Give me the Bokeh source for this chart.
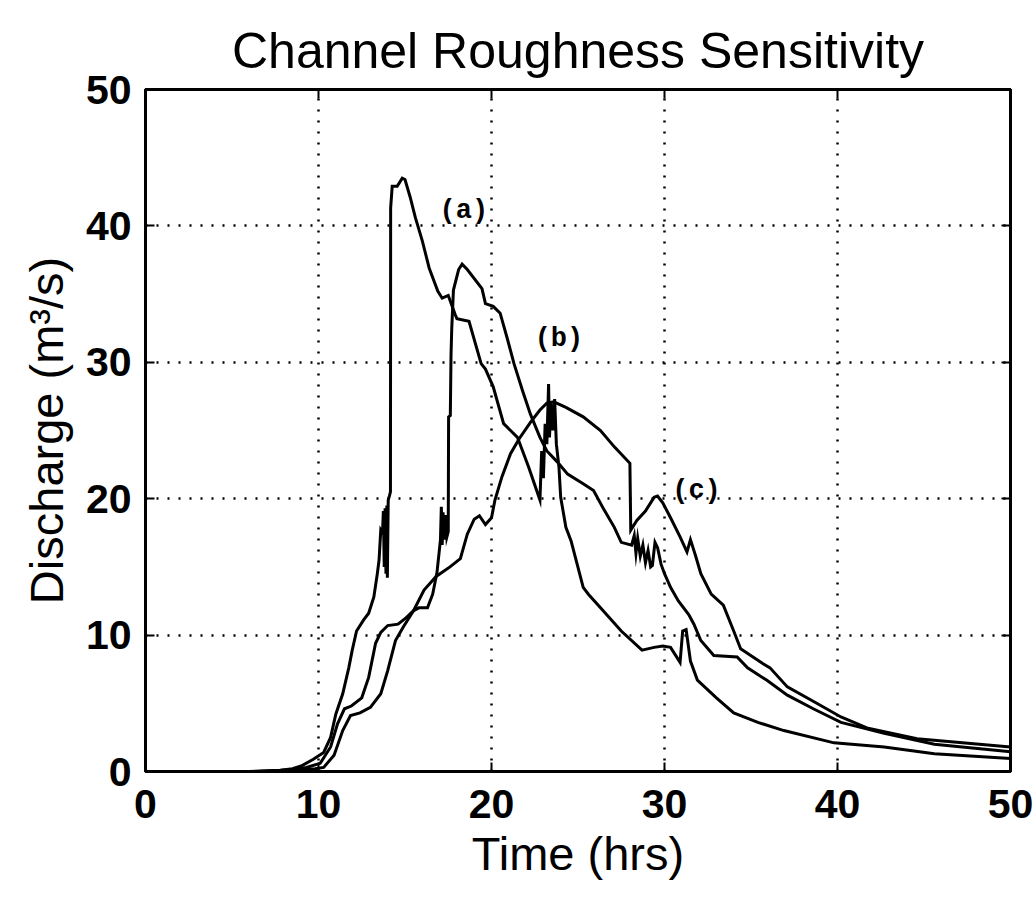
from bokeh.plotting import figure
from bokeh.models import Range1d, FixedTicker, LinearAxis, CustomJSTickFormatter, ColumnDataSource
from bokeh.core.properties import value
from bokeh.embed import file_html
from bokeh.resources import INLINE

# ---- data ----
time_a = [0, 6, 7, 7.8, 8.5, 9.0, 9.7, 10.3, 10.7, 11.0, 11.4, 11.75, 11.95, 12.2, 12.6, 12.9, 13.2, 13.4,
          13.5, 13.6, 13.7, 13.75, 13.8, 13.85, 13.9, 13.95, 13.98, 14.03, 14.1, 14.16, 14.17, 14.26, 14.55,
          14.84, 15.0, 15.3, 15.6, 16.0, 16.4, 16.9, 17.15, 17.5, 17.9, 18.0, 18.7, 19.4, 19.65, 20.1, 20.7,
          21.5, 22.15, 22.8, 22.9, 23.0, 23.1, 23.2, 23.3, 23.35, 23.45, 23.55, 23.65, 23.75, 23.9, 24.0,
          24.3, 24.6, 24.95, 25.3, 25.6, 26.3, 27.5, 28.7, 29.4, 29.9, 30.35, 30.9, 31.05, 31.25, 31.5, 31.9,
          33.0, 34.0, 35.4, 36.9, 39.8, 42.7, 45.6, 50]
flow_a = [0, 0, 0.05, 0.1, 0.2, 0.4, 0.9, 1.4, 2.5, 4.2, 5.7, 7.6, 8.9, 10.3, 11.1, 11.6, 12.8, 14.5,
          15.5, 17.7, 17.5, 19.1, 15.0, 19.3, 14.5, 19.5, 14.2, 19.9, 20.2, 20.5, 41.3, 42.9, 42.9,
          43.5, 43.4, 42.1, 40.6, 38.9, 36.9, 35.2, 34.7, 34.9, 33.5, 33.2, 33.0, 29.9, 29.5, 28.2, 25.5,
          24.5, 22.3, 19.9, 23.5, 21.5, 25.5, 24.0, 28.4, 24.5, 27.0, 25.0, 27.3, 24.0, 22.3, 20.1,
          17.9, 16.9, 15.2, 13.5, 13.0, 12.0, 10.3, 8.9, 9.1, 9.2, 9.1, 8.0, 10.3, 10.4, 8.1, 6.7,
          5.4, 4.3, 3.6, 3.0, 2.1, 1.8, 1.3, 0.95]

time_b = [0, 6.5, 7.5, 8.5, 9.3, 10.1, 10.7, 11.1, 11.5, 11.9, 12.5, 12.9, 13.3, 13.6, 14.0, 14.6, 15.0,
          15.5, 15.8, 16.3, 16.6, 16.85, 17.05, 17.1, 17.15, 17.2, 17.27, 17.35, 17.42, 17.5, 17.52, 17.62,
          17.66, 17.7, 17.8, 18.1, 18.3, 18.6, 19.45, 19.65, 20.1, 20.5, 20.9, 21.3, 21.8, 22.25, 22.8,
          23.2, 23.8, 24.4, 25.3, 25.9, 26.5, 27.1, 27.5, 28.1, 28.25, 28.35, 28.45, 28.6, 28.75, 28.9,
          29.05, 29.2, 29.3, 29.45, 29.6, 29.8, 30.0, 30.35, 30.8, 31.4, 31.7, 32.1, 32.85, 34.2, 34.8,
          35.9, 37.1, 38.6, 40.2, 42.7, 45.6, 50]
flow_b = [0, 0, 0.05, 0.15, 0.3, 0.6, 1.8, 3.5, 4.6, 4.8, 5.4, 6.9, 9.4, 10.2, 10.7, 10.8, 11.2,
          11.8, 12.0, 12.0, 13.0, 14.6, 17.0, 19.4, 16.6, 19.0, 17.0, 18.8, 17.2, 17.6, 26.0, 26.1,
          30.5, 32.4, 35.3, 36.8, 37.2, 36.8, 35.4, 34.3, 34.1, 33.6, 31.8, 29.9, 27.9, 26.2, 24.5,
          23.5, 22.7, 21.8, 21.1, 20.6, 19.2, 17.9, 16.8, 16.6, 17.3, 16.0, 17.1, 15.8, 16.6, 15.3,
          16.2, 15.0, 15.1, 16.8, 16.4, 15.2, 14.5, 13.5, 12.5, 11.5, 10.8, 9.6, 8.5, 8.4, 7.6,
          6.7, 5.6, 4.6, 3.6, 2.8, 2.0, 1.45]

time_c = [0, 7, 8, 9, 9.8, 10.3, 10.9, 11.4, 11.85, 12.4, 13.0, 13.6, 14.0, 14.45, 14.9, 15.5, 16.1,
          16.8, 17.6, 18.2, 18.6, 19.0, 19.3, 19.65, 20.0, 20.2, 20.6, 21.1, 21.6, 22.25, 22.8, 23.2,
          23.6, 24.3, 25.3, 26.3, 27.1, 28.0, 28.05, 28.4, 28.9, 29.4, 29.6, 29.9, 30.35, 30.9, 31.3,
          31.5, 31.8, 32.1, 32.7, 33.4, 34.0, 34.4, 35.7, 36.1, 37.1, 38.8, 40.2, 41.7, 44.6, 50]
flow_c = [0, 0, 0.05, 0.15, 0.2, 0.3, 1.2, 3.0, 4.1, 4.3, 4.7, 5.7, 7.4, 9.6, 10.6, 11.8, 13.3,
          14.3, 15.0, 15.6, 17.4, 18.5, 18.75, 18.1, 18.6, 19.9, 21.6, 23.3, 24.4, 25.6, 26.5, 27.0,
          27.1, 26.7, 26.0, 25.0, 23.8, 22.6, 17.7, 18.4, 19.1, 20.1, 20.2, 19.7, 18.6, 17.2, 16.1,
          17.0, 15.8, 14.5, 13.0, 12.2, 10.3, 9.0, 7.9, 7.6, 6.2, 5.0, 4.0, 3.2, 2.4, 1.8]

curve_labels = ["(a)", "(b)", "(c)"]
label_time = [18.4, 23.9, 31.85]
label_flow = [41.1, 31.7, 20.6]

tick_values = [0, 10, 20, 30, 40, 50]

SANS = "Liberation Sans"

p = figure(width=1036, height=897, output_backend="svg", toolbar_location=None,
           x_range=Range1d(0, 50), y_range=Range1d(0, 50),
           min_border_left=145, min_border_right=26, min_border_top=89, min_border_bottom=126,
           background_fill_color="white", border_fill_color="white")

p.title.text = "Channel Roughness Sensitivity"
p.title.text_font = SANS
p.title.text_font_size = "50px"
p.title.text_font_style = "normal"
p.title.text_color = "black"
p.title.align = "center"
p.title.standoff = 22

for ax in (p.xaxis[0], p.yaxis[0]):
    ax.ticker = FixedTicker(ticks=tick_values)
    ax.major_label_text_font = SANS
    ax.major_label_text_font_size = "41px"
    ax.major_label_text_font_style = "bold"
    ax.major_label_text_color = "black"
    ax.axis_label_text_font = SANS
    ax.axis_label_text_font_size = "47px"
    ax.axis_label_text_font_style = "normal"
    ax.axis_label_text_color = "black"
    ax.axis_line_width = 3
    ax.axis_line_color = "black"
    ax.major_tick_in = 9
    ax.major_tick_out = 0
    ax.major_tick_line_width = 2
    ax.minor_tick_line_color = None

p.xaxis.axis_label = "Time (hrs)"
p.yaxis.axis_label = "Discharge (m³/s)"
p.xaxis.major_label_standoff = 18
p.yaxis.major_label_standoff = 14
p.xaxis.axis_label_standoff = 6
p.yaxis.axis_label_standoff = 10

for loc in ("right", "above"):
    ax = LinearAxis(ticker=FixedTicker(ticks=tick_values),
                    formatter=CustomJSTickFormatter(code="return ''"))
    ax.axis_line_width = 3
    ax.major_tick_in = 9
    ax.major_tick_out = 0
    ax.major_tick_line_width = 2
    ax.minor_tick_line_color = None
    ax.major_label_standoff = 0
    p.add_layout(ax, loc)

p.outline_line_color = "black"
p.outline_line_width = 3

for g in (p.xgrid[0], p.ygrid[0]):
    g.ticker = FixedTicker(ticks=tick_values)
    g.grid_line_color = "black"
    g.grid_line_width = 2.5
    g.grid_line_dash = "2 9"

for t, q in ((time_a, flow_a), (time_b, flow_b), (time_c, flow_c)):
    p.line(t, q, line_color="black", line_width=3, line_join="miter")

src = ColumnDataSource(dict(x=label_time, y=label_flow, t=curve_labels))
p.text(x="x", y="y", text="t", source=src, text_font=value("Liberation Mono"),
       text_font_style="bold", text_font_size="27px", text_align="center",
       text_baseline="middle", text_color="black")

open("out.html", "w").write(file_html(p, INLINE))
